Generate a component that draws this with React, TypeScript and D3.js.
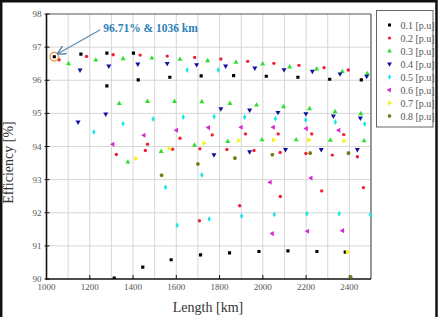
import React from 'react';
import * as d3 from 'd3';

// Efficiency vs. line length for each load level, [km, %]
const load01: [number, number][] = [
	[1036, 96.71], [1159, 96.79], [1279, 96.82], [1279, 95.83], [1402, 96.82], [1424, 96.01],
	[1570, 96.09], [1715, 96.13], [1865, 96.14], [2016, 96.12], [2162, 96.09], [2309, 96.03],
	[2455, 96.01], [1313, 90.03], [1445, 90.36], [1576, 90.58], [1712, 90.73], [1846, 90.79],
	[1982, 90.83], [2116, 90.85], [2250, 90.83], [2381, 90.81],
];
const load02: [number, number][] = [
	[1058, 96.62], [1185, 96.72], [1308, 96.77], [1433, 96.76], [1558, 96.73], [1685, 96.69],
	[1806, 96.64], [1930, 96.57], [2051, 96.51], [2167, 96.45], [2283, 96.38], [2395, 96.31],
	[1323, 93.76], [1457, 93.88], [1467, 94.07], [1583, 93.92], [1617, 94.25], [1709, 93.93],
	[1766, 94.35], [1834, 93.91], [1920, 94.38], [1959, 93.88], [2071, 94.38], [2080, 93.82],
	[2199, 93.79], [2226, 94.38], [2321, 93.74], [2374, 94.36], [2437, 93.69],
	[1707, 91.76], [1893, 92.21], [2081, 92.49], [2272, 92.66], [2465, 92.76],
];
const load03: [number, number][] = [
	[1102, 96.5], [1228, 96.61], [1354, 96.65], [1487, 96.67], [1617, 96.63], [1745, 96.59],
	[1876, 96.54], [1999, 96.49], [2124, 96.4], [2249, 96.34], [2367, 96.26], [2483, 96.2],
	[1336, 95.3], [1467, 95.36], [1592, 95.36], [1718, 95.35], [1848, 95.3], [1971, 95.25],
	[2096, 95.2], [2216, 95.14], [2334, 95.05], [2453, 94.99],
	[1376, 93.53], [1530, 93.85], [1684, 94.04], [1838, 94.15], [1996, 94.2], [2154, 94.2],
	[2312, 94.19], [2468, 94.17],
];
const load04: [number, number][] = [
	[1155, 96.31], [1288, 96.43], [1422, 96.49], [1558, 96.51], [1694, 96.47], [1828, 96.43],
	[1963, 96.37], [2098, 96.32], [2229, 96.27], [2357, 96.19], [2480, 96.12],
	[1146, 94.74], [1274, 94.98], [1806, 95.14], [1939, 95.1], [2070, 95.03], [2199, 94.99],
	[2326, 94.92], [2451, 94.86],
	[1774, 93.75], [1939, 93.84], [2105, 93.91], [2270, 93.91], [2437, 93.91],
];
const load05: [number, number][] = [
	[1650, 96.31], [1794, 96.31],
	[1219, 94.44], [1354, 94.69], [1493, 94.83], [1632, 94.89], [1775, 94.9], [1916, 94.89],
	[2058, 94.84], [2198, 94.8], [2335, 94.74], [2471, 94.68],
	[1550, 92.77], [1718, 93.14], [1604, 91.62], [1752, 91.81], [1902, 91.9], [2053, 91.95],
	[2204, 91.97], [2353, 91.97], [2497, 91.94],
];
const load06: [number, number][] = [
	[1307, 94.07], [1451, 94.34], [1601, 94.49], [1749, 94.57], [1900, 94.58], [2049, 94.58],
	[2201, 94.54], [2351, 94.49],
	[2034, 92.92], [2223, 93.05],
	[2044, 91.37], [2207, 91.44], [2369, 91.46],
];
const load07: [number, number][] = [
	[1412, 93.64], [1567, 93.94], [1728, 94.1], [1888, 94.18], [2049, 94.2], [2212, 94.2],
	[2375, 94.17], [2390, 90.81],
];
const load08: [number, number][] = [
	[1532, 93.13], [1700, 93.47], [1871, 93.65], [2044, 93.75], [2219, 93.8], [2396, 93.8],
	[2406, 90.06],
];

const seriesNames = ['0.1 [p.u]', '0.2 [p.u]', '0.3 [p.u]', '0.4 [p.u]', '0.5 [p.u]', '0.6 [p.u]', '0.7 [p.u]', '0.8 [p.u]'];
const seriesData = [load01, load02, load03, load04, load05, load06, load07, load08];
const seriesColors = ['#000000', '#f0203a', '#2ee02e', '#12129e', '#1ee6e6', '#d626d6', '#f2f21a', '#7a7a14'];

const bestPoint: [number, number] = [1036, 96.71];

const xTicks = [1000, 1200, 1400, 1600, 1800, 2000, 2200, 2400];
const yTicks = [90, 91, 92, 93, 94, 95, 96, 97, 98];

const W = 438;
const H = 317;
const plot = { left: 46.5, right: 371, top: 14, bottom: 279 };
const serif = '"Liberation Serif", "Times New Roman", serif';

const hexagon: d3.SymbolType = {
	draw(ctx, size) {
		const r = Math.sqrt((size * 2) / (3 * Math.sqrt(3)));
		for (let i = 0; i < 6; i++) {
			const a = (Math.PI / 3) * i;
			const px = r * Math.cos(a);
			const py = r * Math.sin(a);
			if (i === 0) ctx.moveTo(px, py);
			else ctx.lineTo(px, py);
		}
		ctx.closePath();
	},
};

// symbol type, size and rotation per series
const symbols: { type: d3.SymbolType; size: number; rot: number }[] = [
	{ type: d3.symbolSquare, size: 10, rot: 0 },
	{ type: d3.symbolCircle, size: 9, rot: 0 },
	{ type: d3.symbolTriangle, size: 11, rot: 0 },
	{ type: d3.symbolTriangle, size: 11, rot: 180 },
	{ type: d3.symbolDiamond, size: 10, rot: 0 },
	{ type: d3.symbolTriangle, size: 11, rot: -90 },
	{ type: d3.symbolTriangle, size: 11, rot: 90 },
	{ type: hexagon, size: 11, rot: 0 },
];

export default function App() {
	const x = d3.scaleLinear().domain([1000, 2500]).range([plot.left, plot.right]);
	const y = d3.scaleLinear().domain([90, 98]).range([plot.bottom, plot.top]);

	const xGrid = d3.range(1100, 2500, 100);
	const yGrid = d3.range(91, 98, 1);

	const bx = x(bestPoint[0]);
	const by = y(bestPoint[1]);

	return (
		<svg
			width={W}
			height={H}
			style={{ position: 'absolute', left: 0, top: 0, background: '#fff' }}
			fontFamily={serif}>
			<defs>
				<marker id='arrowHead' viewBox='0 0 10 10' refX='9' refY='5' markerWidth='7' markerHeight='7' orient='auto'>
					<path d='M0,0 L10,5 L0,10' fill='none' stroke='#5a8cb5' strokeWidth='1.6' />
				</marker>
				<clipPath id='plotClip'>
					<rect x={plot.left} y={plot.top - 3} width={plot.right - plot.left + 3} height={plot.bottom - plot.top + 3} />
				</clipPath>
			</defs>

			{/* outer frame */}
			<path d={`M1.2,${H} V1.2 H436.5 V${H}`} fill='none' stroke='#111' strokeWidth='2.5' />

			{/* grid */}
			{xGrid.map((v) => (
				<line key={`gx${v}`} x1={x(v)} x2={x(v)} y1={plot.top} y2={plot.bottom} stroke='#d6d6d6' strokeWidth='1' />
			))}
			{yGrid.map((v) => (
				<line key={`gy${v}`} x1={plot.left} x2={plot.right} y1={y(v)} y2={y(v)} stroke='#d6d6d6' strokeWidth='1' />
			))}

			{/* plot box */}
			<line x1={plot.left} x2={plot.right} y1={plot.top} y2={plot.top} stroke='#555' strokeWidth='1.2' />
			<line x1={plot.right} x2={plot.right} y1={plot.top} y2={plot.bottom} stroke='#555' strokeWidth='1.2' />
			<line x1={plot.left} x2={plot.left} y1={plot.top} y2={plot.bottom + 0.8} stroke='#111' strokeWidth='1.6' />
			<line x1={plot.left - 0.8} x2={plot.right} y1={plot.bottom} y2={plot.bottom} stroke='#111' strokeWidth='1.6' />

			{/* ticks and labels */}
			{xTicks.map((v) => (
				<g key={`tx${v}`}>
					<line x1={x(v)} x2={x(v)} y1={plot.bottom} y2={plot.bottom - 4} stroke='#111' strokeWidth='1' />
					<text x={x(v)} y={plot.bottom + 11} textAnchor='middle' fontSize='9' fill='#555'>
						{v}
					</text>
				</g>
			))}
			{yTicks.map((v) => (
				<g key={`ty${v}`}>
					<line x1={plot.left - 2} x2={plot.left + 3} y1={y(v)} y2={y(v)} stroke='#111' strokeWidth='1' />
					<text x={plot.left - 5} y={y(v) + 3} textAnchor='end' fontSize='9' fill='#555'>
						{v}
					</text>
				</g>
			))}

			{/* axis titles */}
			<text x={208} y={312} textAnchor='middle' fontSize='14' fill='#333'>
				Length [km]
			</text>
			<text transform={`translate(13,${(plot.top + plot.bottom) / 2 + 16}) rotate(-90)`} textAnchor='middle' fontSize='14' fill='#333'>
				Efficiency [%]
			</text>

			{/* points */}
			<g clipPath='url(#plotClip)'>
				{seriesData.map((pts, si) => {
					const sym = d3.symbol(symbols[si].type, symbols[si].size)();
					return (
						<g key={`s${si}`} fill={seriesColors[si]}>
							{pts.map(([km, eff], i) => (
								<path
									key={i}
									d={sym || ''}
									transform={`translate(${x(km)},${y(eff)}) rotate(${symbols[si].rot})`}
								/>
							))}
						</g>
					);
				})}
			</g>

			{/* highlighted best point */}
			<circle cx={bx} cy={by} r={4.3} fill='none' stroke='#e8903a' strokeWidth='1.3' />
			<line
				x1={bx + 46}
				y1={by - 27}
				x2={bx + 3.5}
				y2={by - 3}
				stroke='#5a8cb5'
				strokeWidth='1.3'
				markerEnd='url(#arrowHead)'
			/>
			<text x={bx + 49} y={by - 25} fontSize='11.5' fontWeight='bold' fill='#2e7fb8'>
				96.71% &amp; 1036 km
			</text>

			{/* legend */}
			<rect x={376.5} y={10.5} width={56.5} height={116.5} fill='#fff' stroke='#666' strokeWidth='1' />
			{seriesNames.map((name, i) => {
				const sym = d3.symbol(symbols[i].type, symbols[i].size * 0.9)();
				const ly = 25 + i * 13;
				return (
					<g key={name}>
						<path
							d={sym || ''}
							fill={seriesColors[i]}
							transform={`translate(389.5,${ly}) rotate(${symbols[i].rot})`}
						/>
						<text x={400.5} y={ly + 3.5} fontSize='10' fill='#555'>
							{name}
						</text>
					</g>
				);
			})}
		</svg>
	);
}
